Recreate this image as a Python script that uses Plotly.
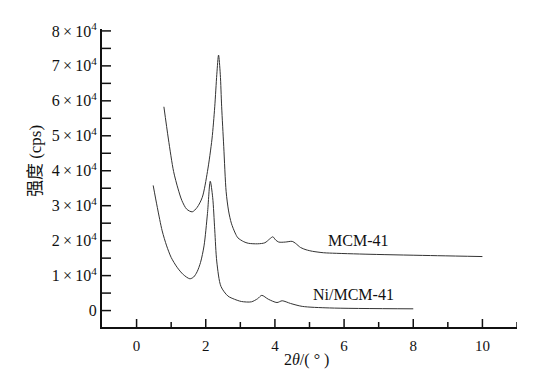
import plotly.graph_objects as go

# MCM-41 curve (2theta in degrees, intensity in cps)
mcm_x = [0.79, 0.92, 1.07, 1.20, 1.31, 1.45, 1.61, 1.75, 1.90, 2.05, 2.18, 2.26, 2.32, 2.37,
         2.42, 2.46, 2.52, 2.59, 2.66, 2.74, 2.85, 2.93, 3.10, 3.23, 3.50, 3.71, 3.85, 3.94,
         4.02, 4.11, 4.30, 4.50, 4.60, 4.74, 4.90, 5.09, 5.40, 5.58, 6.75, 8.70, 10.0]
mcm_y = [58300, 49070, 39800, 34800, 31470, 29000, 28250, 29500, 32400, 39800, 49070, 58300, 67600, 73100,
         67600, 58300, 47000, 34000, 28500, 25000, 22200, 20800, 19700, 19250, 19100, 19400, 20500, 21100,
         20200, 19600, 19600, 19800, 19200, 18050, 17400, 16950, 16550, 16450, 16100, 15700, 15450]

# Ni/MCM-41 curve
ni_x = [0.48, 0.60, 0.74, 0.87, 1.00, 1.17, 1.35, 1.54, 1.65, 1.75, 1.85, 1.95, 2.05, 2.13,
        2.20, 2.26, 2.32, 2.44, 2.64, 2.83, 3.03, 3.32, 3.50, 3.62, 3.81, 4.06, 4.21, 4.45,
        4.79, 5.58, 8.0]
ni_y = [35800, 29500, 22800, 18500, 15200, 12400, 10300, 9100, 9600, 11100, 13800, 18500, 27800, 37000,
        32400, 23100, 13900, 6900, 4170, 3240, 2600, 2500, 3400, 4350, 3240, 2300, 2800, 2040,
        1200, 750, 500]

# ticks
y_tickvals = [0, 10000, 20000, 30000, 40000, 50000, 60000, 70000, 80000]
y_minorvals = [5000, 15000, 25000, 35000, 45000, 55000, 65000, 75000]
y_mantissa = ["", "1", "2", "3", "4", "5", "6", "7", "8"]
x_tickvals = [0, 2, 4, 6, 8, 10]
x_minorvals = [1, 3, 5, 7, 9, 11]

labels = ["MCM-41", "Ni/MCM-41"]
label_x = [6.41, 6.26]
label_y = [20000, 4700]

FONT = "Liberation Serif, Times New Roman, serif"
CJK = "Noto Sans CJK SC"
LINE = "#333333"
INK = "#111111"

y_ticktext = ["0" if m == "" else m + "\u2009×\u200910<sup>4</sup>" for m in y_mantissa]

fig = go.Figure()
fig.add_trace(go.Scatter(x=mcm_x, y=mcm_y, mode="lines",
                         line=dict(color=LINE, width=1, shape="spline", smoothing=0.8), showlegend=False,
                         hoverinfo="skip"))
fig.add_trace(go.Scatter(x=ni_x, y=ni_y, mode="lines",
                         line=dict(color=LINE, width=1, shape="spline", smoothing=0.8), showlegend=False,
                         hoverinfo="skip"))

for t, lx, ly in zip(labels, label_x, label_y):
    fig.add_annotation(x=lx, y=ly, text=t, showarrow=False, xref="x", yref="y",
                       font=dict(family=FONT, size=16, color=INK))

# axis titles
fig.add_annotation(x=-0.166, y=0.557, xref="paper", yref="paper", showarrow=False, textangle=-90,
                   xanchor="center", yanchor="middle",
                   text="<span style='font-family:" + CJK + "'>强度</span> (cps)",
                   font=dict(family=FONT, size=17, color=INK))
fig.add_annotation(x=0.492, y=-0.111, xref="paper", yref="paper", showarrow=False,
                   xanchor="center", yanchor="middle",
                   text="2<i>θ</i>/( ° )", font=dict(family=FONT, size=16, color=INK))

# inward tick marks drawn on the axis scales (pixel lengths)
for v in x_tickvals + x_minorvals:
    ln = 8 if v in x_tickvals else 5
    fig.add_shape(type="line", xref="x", yref="paper", x0=v, x1=v, ysizemode="pixel", yanchor=0,
                  y0=0, y1=ln, line=dict(color=INK, width=1.5))
for v in y_tickvals + y_minorvals:
    fig.add_shape(type="line", yref="y", xref="paper", y0=v, y1=v, xsizemode="pixel", xanchor=0,
                  x0=0, x1=9, line=dict(color=INK, width=1.5))

fig.update_layout(
    width=544, height=367,
    margin=dict(l=94, r=35, t=12, b=48),
    paper_bgcolor="white", plot_bgcolor="white",
    font=dict(family=FONT, size=15, color=INK),
    xaxis=dict(range=[-1.0, 11.0], tickvals=x_tickvals, ticks="", showline=True, linecolor=INK,
               linewidth=2, showgrid=False, zeroline=False, ticklabelstandoff=4,
               tickfont=dict(family=FONT, size=15)),
    yaxis=dict(range=[-4700, 80550], tickvals=y_tickvals, ticktext=y_ticktext, ticks="",
               showline=True, linecolor=INK, linewidth=2, showgrid=False, zeroline=False,
               tickfont=dict(family=FONT, size=16)),
)

fig.write_html("out.html")
